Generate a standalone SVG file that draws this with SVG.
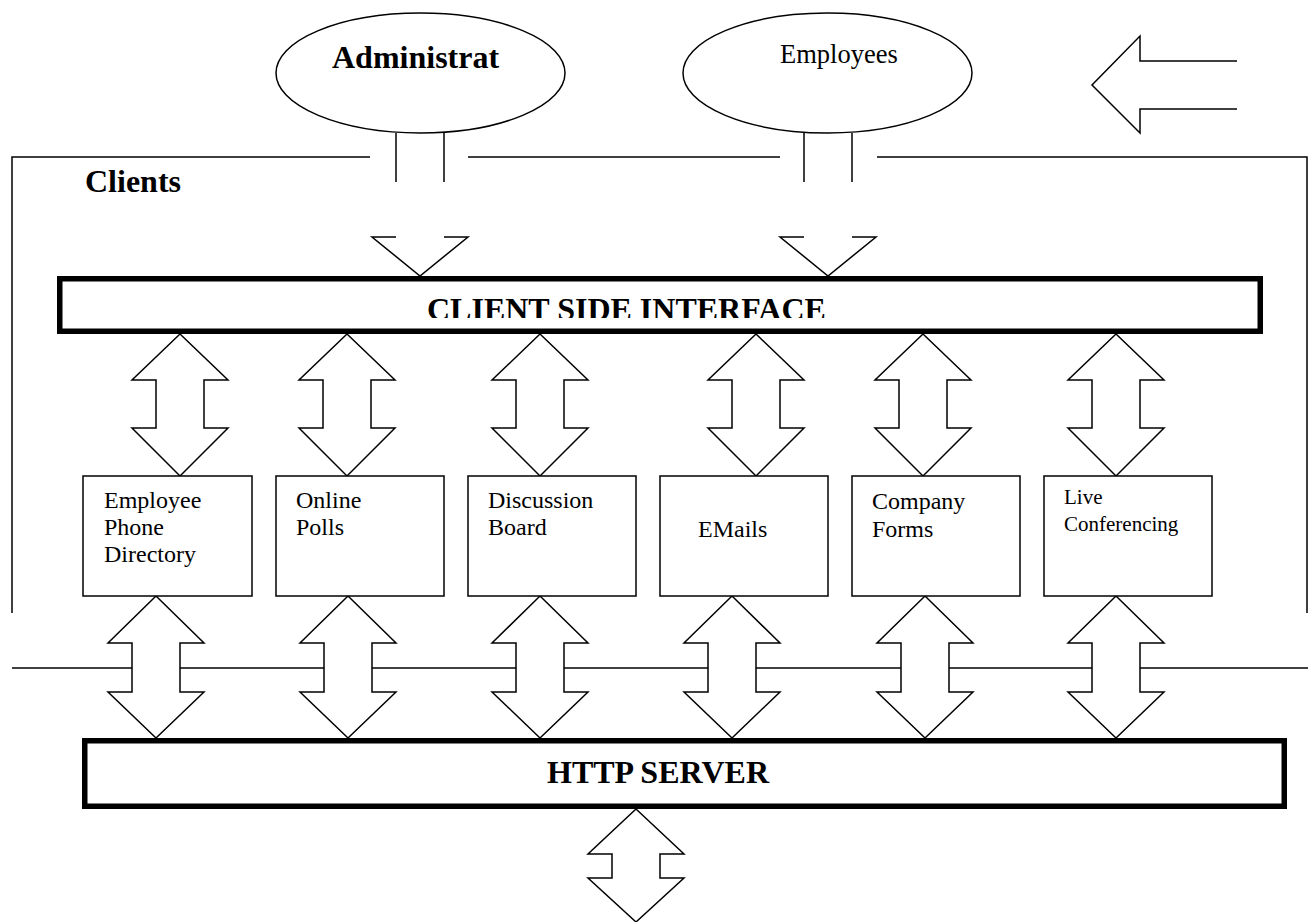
<svg xmlns="http://www.w3.org/2000/svg" width="1308" height="922" viewBox="0 0 1308 922">
  <defs>
    <style>
      .ln { fill: none; stroke: #000; stroke-width: 1.5; }
      .shape { fill: #fff; stroke: #000; stroke-width: 1.5; stroke-linejoin: miter; }
      .bar { fill: #fff; stroke: #000; stroke-width: 5.5; }
      .t { font-family: "Liberation Serif", "Times New Roman", serif; fill: #000; }
      .b { font-weight: bold; font-size: 32px; }
      .r { font-size: 24px; }
    </style>
    <clipPath id="csiClip">
      <rect x="60" y="280" width="1200" height="38"/>
    </clipPath>
  </defs>
  <rect width="1308" height="922" fill="#fff"/>

  <!-- connectors: frame lines, bus line and block arrows -->
  <g id="connectors">
    <!-- Clients frame -->
    <polyline class="ln" points="12,613 12,157 370,157"/>
    <line class="ln" x1="468" y1="157" x2="780" y2="157"/>
    <polyline class="ln" points="877,157 1307,157 1307,613"/>
    <!-- stems and open heads from the actors -->
    <line class="ln" x1="396" y1="133" x2="396" y2="182"/>
    <line class="ln" x1="444" y1="133" x2="444" y2="182"/>
    <polyline class="ln" points="396,237 372,237 420,276 468,237 444,237"/>
    <line class="ln" x1="804" y1="133" x2="804" y2="182"/>
    <line class="ln" x1="852" y1="133" x2="852" y2="182"/>
    <polyline class="ln" points="804,237 780,237 828,276 876,237 852,237"/>
    <!-- open left arrow, top right -->
    <polyline class="ln" points="1237,61 1140,61 1140,36 1092,85 1140,133 1140,109 1237,109"/>
    <!-- bus line between modules and server -->
    <line class="ln" x1="12" y1="668" x2="1308" y2="668"/>
    <!-- interface <-> modules -->
    <path class="shape" d="M180,334 L228,380 L204,380 L204,428 L228,428 L180,476 L132,428 L156,428 L156,380 L132,380 Z"/>
    <path class="shape" d="M347,334 L395,380 L371,380 L371,428 L395,428 L347,476 L299,428 L323,428 L323,380 L299,380 Z"/>
    <path class="shape" d="M540,334 L588,380 L564,380 L564,428 L588,428 L540,476 L492,428 L516,428 L516,380 L492,380 Z"/>
    <path class="shape" d="M756,334 L804,380 L780,380 L780,428 L804,428 L756,476 L708,428 L732,428 L732,380 L708,380 Z"/>
    <path class="shape" d="M923,334 L971,380 L947,380 L947,428 L971,428 L923,476 L875,428 L899,428 L899,380 L875,380 Z"/>
    <path class="shape" d="M1116,334 L1164,380 L1140,380 L1140,428 L1164,428 L1116,476 L1068,428 L1092,428 L1092,380 L1068,380 Z"/>
    <!-- modules <-> server -->
    <path class="shape" d="M156,596 L204,643 L180,643 L180,692 L204,692 L156,738 L108,692 L132,692 L132,643 L108,643 Z"/>
    <path class="shape" d="M348,596 L396,643 L372,643 L372,692 L396,692 L348,738 L300,692 L324,692 L324,643 L300,643 Z"/>
    <path class="shape" d="M540,596 L588,643 L564,643 L564,692 L588,692 L540,738 L492,692 L516,692 L516,643 L492,643 Z"/>
    <path class="shape" d="M732,596 L780,643 L756,643 L756,692 L780,692 L732,738 L684,692 L708,692 L708,643 L684,643 Z"/>
    <path class="shape" d="M925,596 L973,643 L949,643 L949,692 L973,692 L925,738 L877,692 L901,692 L901,643 L877,643 Z"/>
    <path class="shape" d="M1116,596 L1164,643 L1140,643 L1140,692 L1164,692 L1116,738 L1068,692 L1092,692 L1092,643 L1068,643 Z"/>
    <!-- server outbound -->
    <path class="shape" d="M636,809 L684,854 L660,854 L660,878 L684,878 L636,922 L588,878 L612,878 L612,854 L588,854 Z"/>
  </g>

  <g id="actor-admin">
    <ellipse class="shape" cx="420.5" cy="73" rx="144.5" ry="60"/>
    <text class="t b" x="332" y="68">Administrat</text>
  </g>
  <g id="actor-employees">
    <ellipse class="shape" cx="827.5" cy="73" rx="144.5" ry="60"/>
    <text class="t" x="780" y="63" font-size="26.5">Employees</text>
  </g>

  <g id="label-clients">
    <text class="t b" x="85" y="192">Clients</text>
  </g>

  <g id="client-side-interface">
    <rect class="bar" x="59.75" y="278.75" width="1200.5" height="52.5"/>
    <text class="t b" x="427" y="320" clip-path="url(#csiClip)">CLIENT SIDE INTERFACE</text>
  </g>

  <g id="mod-phone">
    <rect class="shape" x="83" y="476" width="169" height="120"/>
    <text class="t r" x="104" y="508">Employee</text>
    <text class="t r" x="104" y="535">Phone</text>
    <text class="t r" x="104" y="562">Directory</text>
  </g>
  <g id="mod-polls">
    <rect class="shape" x="276" y="476" width="168" height="120"/>
    <text class="t r" x="296" y="508">Online</text>
    <text class="t r" x="296" y="535">Polls</text>
  </g>
  <g id="mod-board">
    <rect class="shape" x="468" y="476" width="168" height="120"/>
    <text class="t r" x="488" y="508">Discussion</text>
    <text class="t r" x="488" y="535">Board</text>
  </g>
  <g id="mod-emails">
    <rect class="shape" x="660" y="476" width="168" height="120"/>
    <text class="t r" x="698" y="537">EMails</text>
  </g>
  <g id="mod-forms">
    <rect class="shape" x="852" y="476" width="168" height="120"/>
    <text class="t r" x="872" y="509">Company</text>
    <text class="t r" x="872" y="537">Forms</text>
  </g>
  <g id="mod-conf">
    <rect class="shape" x="1044" y="476" width="168" height="120"/>
    <text class="t" x="1064" y="504" font-size="21">Live</text>
    <text class="t" x="1064" y="531" font-size="21">Conferencing</text>
  </g>

  <g id="http-server">
    <rect class="bar" x="84.75" y="740.75" width="1199.5" height="65.5"/>
    <text class="t b" x="547" y="783">HTTP SERVER</text>
  </g>
</svg>
